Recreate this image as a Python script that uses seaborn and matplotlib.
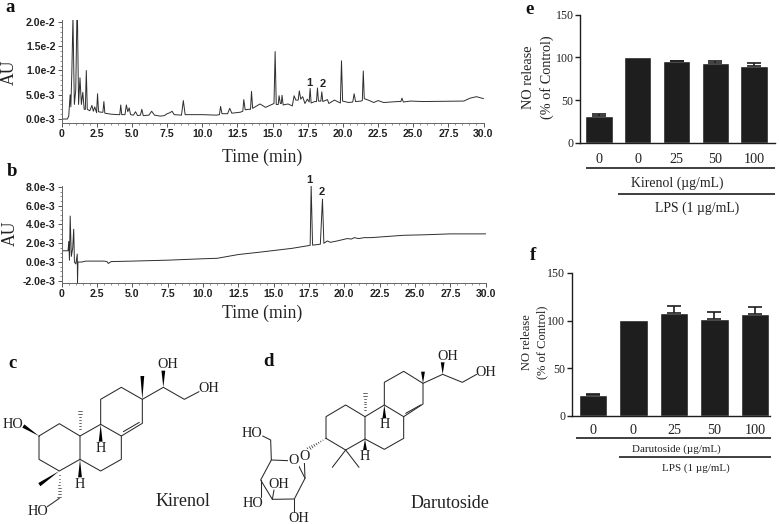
import matplotlib
matplotlib.use("Agg")
import matplotlib.pyplot as plt
from matplotlib.patches import Polygon
from matplotlib.ticker import MultipleLocator
import numpy as np
import pandas as pd
import seaborn as sns

# ==================== data ====================
# chromatogram a, time in min, signal in 1e-3 AU
a_time = [0, 0.4, 0.5, 0.6, 0.65, 0.72, 0.8, 0.9, 1.0, 1.08, 1.12, 1.2, 1.3, 1.4, 1.5, 1.6, 1.68, 1.75, 1.82,
          2.0, 2.15, 2.25, 2.35, 2.48, 2.55, 2.62, 2.8, 2.93, 3.0, 3.07, 3.5, 4.0, 4.13, 4.2, 4.27, 4.5, 4.6, 4.7, 4.8, 4.9,
          5.1, 5.25, 5.4, 5.6, 5.7, 5.8, 6.2, 6.4, 6.6, 7.0, 7.3, 7.5, 7.7, 7.85, 8.0, 8.52, 8.65, 8.78,
          9.5, 10.0, 11.0, 11.22, 11.3, 11.4, 11.8, 11.95, 12.1, 12.7, 12.88, 12.95, 13.05, 13.3, 13.43, 13.5, 13.58,
          14.1, 14.5, 15.1, 15.18, 15.26, 15.4, 15.46, 15.55, 15.62, 15.67, 15.75, 16.1, 16.4, 16.53, 16.65, 16.82, 16.9, 17.0,
          17.14, 17.3, 17.47, 17.6, 17.67, 17.74, 18.0, 18.12, 18.19, 18.26, 18.43, 18.5, 18.57, 18.9, 19.0, 19.4, 19.82, 19.9,
          19.98, 20.4, 20.7, 20.8, 20.9, 21.3, 21.38, 21.45, 21.52, 21.8, 22.2, 22.5, 22.9, 23.9, 24.12, 24.2, 24.3, 24.8, 25.7,
          28.6, 29.05, 29.5, 30.0]
a_au = [0, 0, 0.6, 5.0, 2.5, 9.5, 21, 3, 6, 21, 21, 3, 8.5, 3, 5.5, 2.0, 2.0, 10, 2, 1.7, 2.8, 1.6, 2.5, 1.3, 5.2,
        1.5, 1.4, 1.4, 3.6, 1.2, 1.0, 0.9, 0.9, 2.9, 0.9, 0.9, 2.9, 1.5, 2.3, 0.9, 0.8, 1.5, 0.7, 0.8, 2.0, 0.7, 0.8,
        1.6, 0.8, 0.6, 0.7, 1.1, 1.3, 1.6, 0.9, 0.8, 3.8, 0.9, 0.9, 0.9, 0.8, 0.9, 2.6, 1.1, 1.1, 2.2, 1.2, 1.4, 1.6,
        4.0, 1.9, 2.0, 2.0, 5.7, 2.2, 3.1, 2.4, 3.2, 13.9, 3.0, 3.0, 4.8, 3.2, 3.2, 4.9, 2.9, 3.1, 2.7, 4.8, 3.9, 3.9, 5.8, 4.1,
        4.6, 3.2, 4.1, 3.5, 6.3, 3.3, 3.6, 3.6, 6.4, 3.7, 3.7, 5.6, 3.6, 4.0, 3.2, 3.9, 3.3, 12.0, 3.7, 3.4, 3.5, 5.2, 3.6, 3.7,
        3.8, 9.9, 4.2, 3.9, 3.4, 3.8, 3.4, 3.6, 3.6, 4.3, 3.5, 3.7, 3.6, 3.7, 4.3, 4.6, 4.2]

# chromatogram b, same units
b_time = [0, 0.35, 0.45, 0.5, 0.55, 0.6, 0.68, 0.78, 0.85, 0.9, 1.0, 1.1, 1.12, 1.15, 1.4, 1.7, 3.0, 3.2, 3.3,
          3.5, 5.0, 7.5, 10.0, 11.0, 12.5, 14.0, 16.3, 17.58, 17.65, 17.75, 18.3, 18.45, 18.55, 18.8, 19.0,
          19.5, 20.2, 20.5, 20.7, 21.0, 21.4, 21.9, 22.8, 24.2, 25.6, 27.5, 30.0]
b_au = [1.2, 1.2, 1.2, 2.2, 0.2, 4.9, 0.6, 1.5, 3.5, 0, -0.2, 0.85, -2.2, 0, 0, 0.1, 0.1, 0.05, -0.15, 0.05, 0.1,
        0.2, 0.35, 0.4, 0.8, 1.05, 1.46, 1.78, 8.1, 1.8, 1.9, 6.7, 2.0, 2.25, 2.1, 2.25, 2.5, 2.45, 2.6, 2.5,
        2.6, 2.6, 2.7, 2.85, 2.9, 3.0, 3.0]
a_yticks = [0, 5, 10, 15, 20]
a_ylabels = ["0.0e-3", "5.0e-3", "1.0e-2", "1.5e-2", "2.0e-2"]
b_yticks = [-2, 0, 2, 4, 6, 8]
b_ylabels = ["-2.0e-3", "0.0e-3", "2.0e-3", "4.0e-3", "6.0e-3", "8.0e-3"]
time_ticks = [0, 2.5, 5, 7.5, 10, 12.5, 15, 17.5, 20, 22.5, 25, 27.5, 30]
time_labels = ["0", "2.5", "5.0", "7.5", "10.0", "12.5", "15.0", "17.5", "20.0", "22.5", "25.0", "27.5", "30.0"]

# bar panels
groups = ["control", "lps", "d25", "d50", "d100"]
dose_labels = ["0", "0", "25", "50", "100"]
e_release = [31.6, 100, 95.5, 93, 90]
e_err = [2, 0, 0.5, 3, 3.4]
f_release = [22, 100.5, 108, 102, 107]
f_err = [1, 0, 7.5, 6.5, 7.5]

# structures, (x, y) at 3x scale
kir_bonds = [[(117, 318), (178, 281), (240, 318), (240, 388), (178, 423), (117, 388), (117, 318)],
             [(240, 318), (302, 283), (364, 318), (364, 388), (302, 423), (240, 388)],
             [(302, 283), (302, 208), (364, 172), (427, 208), (427, 280), (364, 318)],
             [(370, 305), (418, 277)],
             [(427, 208), (490, 172), (553, 208), (597, 185)],
             [(178, 505), (142, 530)]]
kir_wedges = [[(427, 208), (427, 138)], [(490, 172), (490, 122)], [(117, 318), (70, 288)],
              [(302, 283), (302, 335)], [(240, 388), (240, 442)], [(178, 423), (118, 464)]]
kir_hashes = [[(240, 318), (240, 242)], [(178, 423), (178, 502)]]
kir_text = [("OH", 503, 105), ("OH", 627, 177), ("HO", 38, 284), ("H", 303, 355), ("H", 240, 462), ("HO", 113, 545)]

dar_bonds = [[(228, 325), (228, 260), (287, 225), (345, 260), (345, 327), (287, 360), (228, 325)],
             [(345, 260), (403, 225), (461, 260), (461, 325), (403, 358), (345, 327)],
             [(403, 225), (403, 157), (461, 124), (519, 160), (519, 222), (461, 260)],
             [(467, 250), (512, 225)],
             [(519, 160), (578, 133), (637, 157), (680, 133)],
             [(287, 360), (247, 412)], [(287, 360), (327, 412)],
             [(115, 392), (64, 390), (32, 450), (67, 508), (133, 507), (165, 445), (145, 405)],
             [(165, 445), (163, 392)],
             [(64, 390), (62, 330), (38, 318)],
             [(32, 450), (32, 500)], [(67, 508), (72, 480)], [(133, 507), (133, 545)]]
dar_wedges = [[(519, 160), (519, 125)], [(578, 133), (578, 97)], [(403, 225), (403, 265)], [(345, 327), (345, 360)]]
dar_hashes = [[(345, 260), (345, 190)], [(228, 325), (174, 358)]]
dar_text = [("HO", 6, 310), ("O", 130, 392), ("O", 165, 378), ("OH", 85, 463), ("HO", 8, 520), ("OH", 147, 565),
            ("OH", 592, 80), ("OH", 708, 127), ("H", 403, 282), ("H", 345, 378)]

# ==================== setup ====================
sns.set_theme(style="ticks")
plt.rcParams["font.family"] = ["Liberation Serif", "DejaVu Serif"]
SANS = ["Liberation Sans", "DejaVu Sans"]
W, H = 779, 524
INK = "#1e1e1e"

fig = plt.figure(figsize=(W / 100, H / 100), dpi=100)

def px_axes(left, right, top, bottom):
    return fig.add_axes([left / W, 1 - bottom / H, (right - left) / W, (bottom - top) / H])

# overlay in picture pixels for labels, brackets and structures
bg = fig.add_axes([0, 0, 1, 1])
bg.set_xlim(0, W)
bg.set_ylim(H, 0)
bg.axis("off")

# ==================== chromatograms ====================
def chrom(ax, t, v, ylim, yticks, ylabels, minor):
    sns.lineplot(x=t, y=v, estimator=None, sort=False, color="#2e2e2e", linewidth=0.7, ax=ax)
    ax.set_xlim(0, 30)
    ax.set_ylim(*ylim)
    ax.set_xticks(time_ticks)
    ax.set_xticklabels(time_labels, family=SANS, fontweight="bold", fontsize=7.6, color="#222222")
    ax.set_yticks(yticks)
    ax.set_yticklabels(ylabels, family=SANS, fontweight="bold", fontsize=7.6, color="#222222")
    ax.xaxis.set_minor_locator(MultipleLocator(0.5))
    ax.yaxis.set_minor_locator(MultipleLocator(minor))
    ax.tick_params(axis="both", which="major", length=3, width=0.7, color="#555555", pad=1.5)
    ax.tick_params(axis="both", which="minor", length=1.5, width=0.5, color="#666666")
    ax.set_xlabel("")
    ax.set_ylabel("")
    ax.patch.set_alpha(0)
    for s in ["left", "bottom"]:
        ax.spines[s].set_linewidth(0.7)
        ax.spines[s].set_color("#666666")
    sns.despine(ax=ax)

ax_a = px_axes(61.7, 483.5, 20, 123)
chrom(ax_a, a_time, a_au, (-0.82, 20.4), a_yticks, a_ylabels, 1)
ax_b = px_axes(61.7, 485.7, 186, 282.7)
chrom(ax_b, b_time, b_au, (-2.2, 8.1), b_yticks, b_ylabels, 0.5)

for label, x, y in [("1", 309, 83), ("2", 323, 84), ("1", 309, 180), ("2", 322, 192)]:
    bg.text(x, y, label, family=SANS, fontweight="bold", fontsize=8, ha="center", va="center", color="#222222")
for y in [157, 313]:
    bg.text(262, y, "Time (min)", fontsize=12.7, ha="center", va="center", color="#222222")
bg.text(9, 72, "AU", fontsize=12.7, rotation=90, ha="center", va="center", color="#222222")
bg.text(10, 233, "AU", fontsize=12.7, rotation=90, ha="center", va="center", color="#222222")

# ==================== bar panels ====================
def bars(ax, values, errs, xlim, width, xpad):
    df = pd.DataFrame({"group": groups, "release": values})
    sns.barplot(data=df, x="group", y="release", order=groups, color=INK, saturation=1, width=width, ax=ax)
    # no whisker where the error is zero (normalised LPS bar)
    shown = [i for i in range(len(groups)) if errs[i] > 0]
    ax.errorbar(shown, [values[i] for i in shown], yerr=[[0] * len(shown), [errs[i] for i in shown]], fmt="none",
                ecolor=INK, elinewidth=1.2, capsize=5.2, capthick=1.2)
    ax.set_xlim(*xlim)
    ax.set_ylim(0, 150)
    ax.set_yticks([0, 50, 100, 150])
    ax.set_xticks(range(len(groups)))
    ax.set_xticklabels(dose_labels, fontsize=10.2, color="#222222")
    ax.tick_params(axis="y", length=3.5, width=1, color=INK, labelsize=8.6, labelcolor="#222222", pad=1)
    ax.tick_params(axis="x", length=0, pad=xpad)
    ax.set_xlabel("")
    ax.set_ylabel("")
    ax.patch.set_alpha(0)
    for s in ["left", "bottom"]:
        ax.spines[s].set_linewidth(1)
        ax.spines[s].set_color(INK)
    sns.despine(ax=ax)

ax_e = px_axes(580, 775, 14.7, 142.7)
bars(ax_e, e_release, e_err, (-0.49, 4.54), 0.7, 7.5)
ax_f = px_axes(571.7, 770, 273, 415.7)
bars(ax_f, f_release, f_err, (-0.52, 4.37), 0.7, 6)

def bracket(x0, x1, y):
    bg.plot([x0, x1], [y, y], color=INK, linewidth=1.2, solid_capstyle="butt")

bracket(586, 775, 168)
bracket(618, 775, 194)
bracket(576, 771, 438)
bracket(619, 771, 457)
bg.text(677, 183, "Kirenol (µg/mL)", fontsize=9.9, ha="center", va="center", color="#222222")
bg.text(697, 208, "LPS (1 µg/mL)", fontsize=9.9, ha="center", va="center", color="#222222")
bg.text(676, 449, "Darutoside (µg/mL)", fontsize=7.9, ha="center", va="center", color="#222222")
bg.text(696, 468, "LPS (1 µg/mL)", fontsize=7.9, ha="center", va="center", color="#222222")
bg.text(529, 77, "NO release", fontsize=10.3, rotation=90, ha="center", va="center", color="#222222")
bg.text(547, 77, "(% of Control)", fontsize=10.3, rotation=90, ha="center", va="center", color="#222222")
bg.text(527, 342, "NO release", fontsize=9, rotation=90, ha="center", va="center", color="#222222")
bg.text(542, 342, "(% of Control)", fontsize=9, rotation=90, ha="center", va="center", color="#222222")

# ==================== structures ====================
def molecule(ox, oy, lines, wedges, hashes, atoms):
    def p(pt):
        return ox + pt[0] / 3, oy + pt[1] / 3
    for path in lines:
        pts = [p(q) for q in path]
        bg.plot([q[0] for q in pts], [q[1] for q in pts], color="#2a2a2a", linewidth=0.75, solid_joinstyle="miter")
    for a, b in wedges:
        ax_, ay_ = p(a)
        bx_, by_ = p(b)
        n = np.array([by_ - ay_, ax_ - bx_])
        n = n / np.hypot(*n) * 1.9
        bg.add_patch(Polygon([(ax_, ay_), (bx_ + n[0], by_ + n[1]), (bx_ - n[0], by_ - n[1])], color="black", lw=0))
    for a, b in hashes:
        s = np.array(p(a))
        e = np.array(p(b))
        n = np.array([e[1] - s[1], s[0] - e[0]])
        n = n / np.hypot(*n)
        for f in np.linspace(0.05, 1, 9):
            c = s + (e - s) * f
            bg.plot([c[0] - n[0] * 1.9 * f, c[0] + n[0] * 1.9 * f], [c[1] - n[1] * 1.9 * f, c[1] + n[1] * 1.9 * f],
                    color="#2a2a2a", linewidth=0.5)
    for label, x, y in atoms:
        q = p((x, y))
        bg.text(q[0], q[1], label, fontsize=10.3, ha="center", va="center", color="#222222",
                bbox=dict(facecolor="white", edgecolor="none", pad=0.2) if label == "O" else None)

molecule(0, 330, kir_bonds, kir_wedges, kir_hashes, kir_text)
molecule(250, 330, dar_bonds, dar_wedges, dar_hashes, dar_text)
bg.text(183, 502, "Kirenol", fontsize=13, ha="center", va="center", color="#222222")
bg.text(450, 503, "Darutoside", fontsize=13, ha="center", va="center", color="#222222")

# panel letters
for letter, x, y in [("a", 10, 8), ("b", 12, 172), ("c", 13, 363), ("d", 269, 361), ("e", 530, 9), ("f", 533, 256)]:
    bg.text(x, y, letter, fontsize=13.5, fontweight="bold", ha="center", va="center", color="#111111")

assert len(a_time) == len(a_au), (len(a_time), len(a_au))
fig.savefig("out.png", dpi=100)
